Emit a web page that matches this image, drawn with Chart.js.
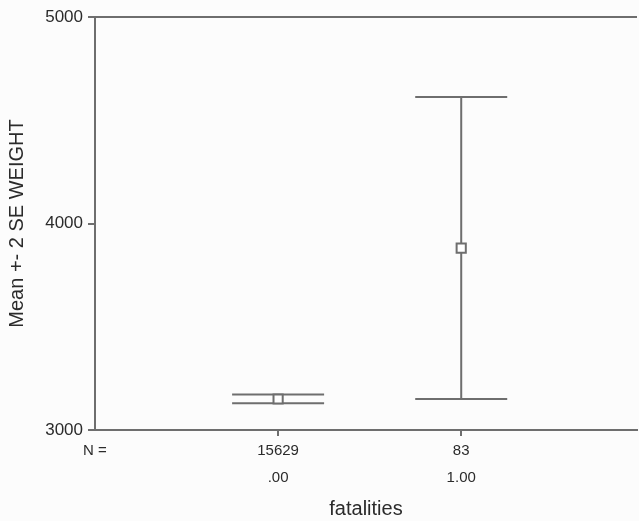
<!DOCTYPE html>
<html>
<head>
<meta charset="utf-8">
<script src="https://cdn.jsdelivr.net/npm/chart.js@4/dist/chart.umd.min.js"></script>
<style>
html, body { margin: 0; padding: 0; background: #fff; overflow: hidden; }
canvas { display: block; }
</style>
</head>
<body>
<canvas id="chart" width="639" height="521"></canvas>
<script>
// data
const groupLabels = ['.00', '1.00'];
const groupN = [15629, 83];
const groupPos = [1, 2];
const means = [3150, 3881];
const lowerBars = [3129, 3150];
const upperBars = [3172, 4612];
const yTicks = [3000, 4000, 5000];

const lineGray = '#6e6e6e';
const textGray = '#2b2b2b';
const fontFamily = "'Liberation Sans', Arial, sans-serif";

// background + top frame line
const frame = {
    id: 'frame',
    beforeDraw(chart) {
        const ctx = chart.ctx;
        ctx.save();
        ctx.fillStyle = '#fcfcfc';
        ctx.fillRect(0, 0, chart.width, chart.height);
        ctx.restore();
    },
    afterDraw(chart) {
        const { ctx, chartArea } = chart;
        ctx.save();
        ctx.strokeStyle = lineGray;
        ctx.lineWidth = 2;
        ctx.beginPath();
        ctx.moveTo(chartArea.left, chartArea.top);
        ctx.lineTo(chartArea.right, chartArea.top);
        ctx.stroke();
        ctx.restore();
    }
};

// whiskers with caps, drawn under the mean markers
const errorBars = {
    id: 'errorBars',
    beforeDatasetsDraw(chart) {
        const x = chart.scales.x, y = chart.scales.y, ctx = chart.ctx;
        const capHalf = 46;
        ctx.save();
        ctx.strokeStyle = lineGray;
        ctx.lineWidth = 2;
        groupPos.forEach((p, i) => {
            const px = x.getPixelForValue(p);
            const top = y.getPixelForValue(upperBars[i]);
            const bot = y.getPixelForValue(lowerBars[i]);
            ctx.beginPath();
            ctx.moveTo(px, top); ctx.lineTo(px, bot);
            ctx.moveTo(px - capHalf, top); ctx.lineTo(px + capHalf, top);
            ctx.moveTo(px - capHalf, bot); ctx.lineTo(px + capHalf, bot);
            ctx.stroke();
        });
        ctx.restore();
    }
};

new Chart(document.getElementById('chart'), {
    type: 'scatter',
    data: {
        datasets: [{
            data: groupPos.map((p, i) => ({ x: p, y: means[i] })),
            pointStyle: 'rect',
            radius: 6.5,
            hoverRadius: 6.5,
            backgroundColor: '#ffffff',
            borderColor: lineGray,
            borderWidth: 2
        }]
    },
    options: {
        responsive: false,
        animation: false,
        layout: { autoPadding: false, padding: { top: 17, right: 2, left: 0, bottom: 0 } },
        plugins: { legend: { display: false }, tooltip: { enabled: false } },
        scales: {
            x: {
                type: 'linear',
                min: 0, max: 2.96,
                afterBuildTicks: s => { s.ticks = [0].concat(groupPos).map(v => ({ value: v })); },
                afterFit: s => { s.height = 91; s.paddingLeft = 0; s.paddingRight = 0; },
                ticks: {
                    autoSkip: false, maxRotation: 0, padding: 1,
                    color: textGray,
                    font: { family: fontFamily, size: 15, lineHeight: 1.8 },
                    callback: v => {
                        if (v === 0) return ['N =', ''];
                        const i = groupPos.indexOf(v);
                        return [String(groupN[i]), groupLabels[i]];
                    }
                },
                grid: {
                    drawOnChartArea: false, tickLength: 6, lineWidth: 2,
                    tickColor: c => (c.tick && c.tick.value === 0) ? 'rgba(0,0,0,0)' : lineGray
                },
                border: { color: lineGray, width: 2 },
                title: {
                    display: true, text: 'fatalities', color: textGray,
                    font: { family: fontFamily, size: 20 },
                    padding: { top: -1, bottom: 0 }
                }
            },
            y: {
                min: 3000, max: 5000,
                afterBuildTicks: s => { s.ticks = yTicks.map(v => ({ value: v })); },
                afterFit: s => { s.width = 95; },
                ticks: {
                    padding: 5, color: textGray,
                    font: { family: fontFamily, size: 17 },
                    callback: v => String(v)
                },
                grid: { drawOnChartArea: false, tickLength: 7, lineWidth: 2, color: lineGray },
                border: { color: lineGray, width: 2 },
                title: {
                    display: true, text: 'Mean +- 2 SE WEIGHT', color: textGray,
                    font: { family: fontFamily, size: 20 },
                    padding: { top: 5, bottom: 0 }
                }
            }
        }
    },
    plugins: [frame, errorBars]
});
</script>
</body>
</html>
